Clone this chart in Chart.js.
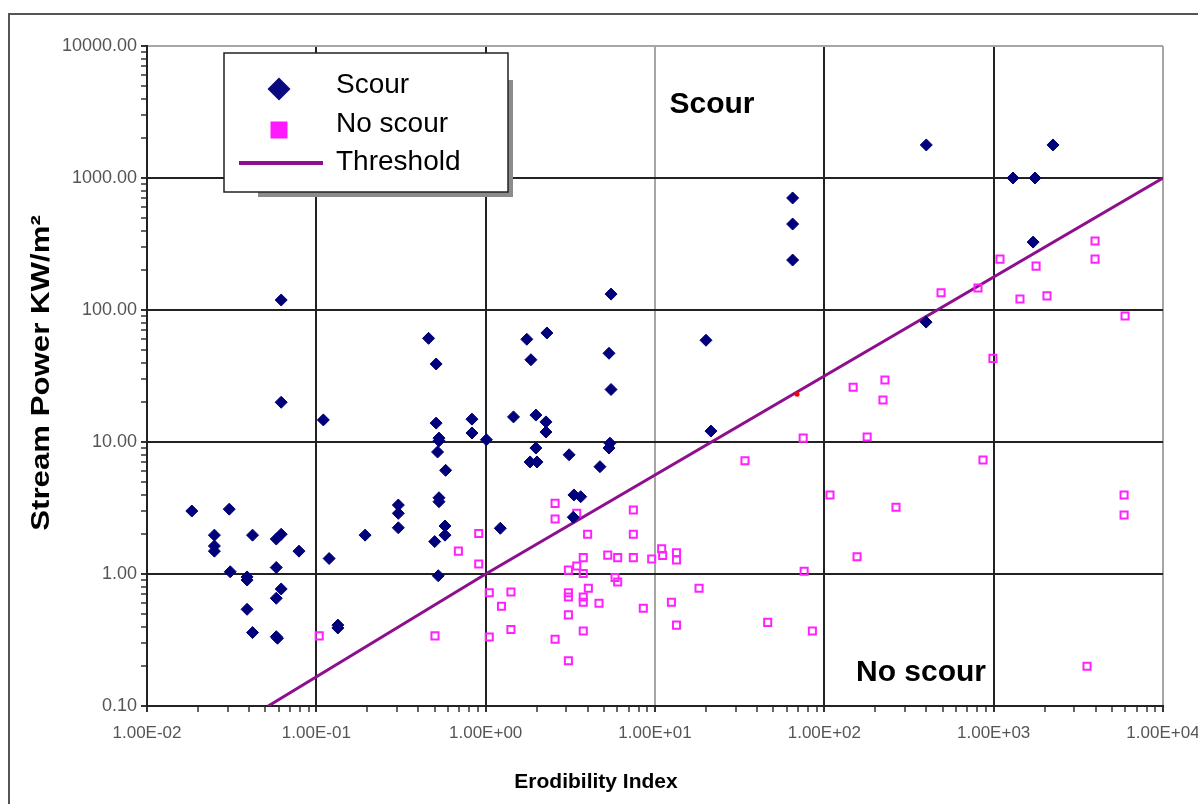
<!DOCTYPE html>
<html>
<head>
<meta charset="utf-8">
<script src="https://cdn.jsdelivr.net/npm/chart.js@4.4.1/dist/chart.umd.min.js"></script>
<style>
  body { margin: 0; background: #fff; }
  canvas { display: block; }
</style>
</head>
<body>
<canvas id="scourChart" width="1198" height="804"></canvas>
<script>
const FONT = '"Liberation Sans", Arial, sans-serif';

// decades used for the tick labels
const xDecades = [0.01, 0.1, 1, 10, 100, 1000, 10000];
const yDecades = [0.1, 1, 10, 100, 1000, 10000];

// Scour (navy diamonds)
const scourErodibility = [0.062, 0.062, 0.11, 0.46, 0.51, 0.51, 0.53, 0.53, 0.52, 0.58, 0.83, 0.83, 1.01, 1.46, 1.98, 2.27, 2.27, 1.98, 1.83, 2.01,
    3.11, 4.73, 5.42, 5.35, 5.5, 1.75, 2.30, 1.85, 5.35, 5.5, 20, 21.4, 65, 65, 65, 400, 2240, 1300, 1755, 1710,
    399, 0.0184, 0.0306, 0.025, 0.025, 0.025, 0.042, 0.058, 0.062, 0.079, 0.119, 0.031, 0.039, 0.039, 0.058, 0.062, 0.058, 0.039, 0.042, 0.058,
    0.059, 0.134, 0.134, 0.194, 0.50, 0.525, 0.305, 0.305, 0.305, 0.575, 0.575, 1.22, 3.32, 3.64, 3.29, 0.53, 0.53];
const scourPower = [119, 20, 14.7, 61, 39, 13.9, 10.7, 10.2, 8.4, 6.1, 14.9, 11.7, 10.4, 15.5, 16, 14.2, 11.9, 9.0, 7.06, 7.06,
    8.0, 6.5, 9.8, 9.0, 132, 60, 67, 42, 47, 25, 59, 12.1, 706, 448, 239, 1780, 1780, 1000, 1000, 327,
    81, 3.0, 3.1, 1.97, 1.63, 1.49, 1.97, 1.84, 2.0, 1.49, 1.31, 1.04, 0.95, 0.90, 1.12, 0.77, 0.655, 0.54, 0.36, 0.335,
    0.326, 0.41, 0.39, 1.97, 1.76, 0.97, 3.33, 2.88, 2.24, 2.31, 1.97, 2.22, 3.97, 3.85, 2.69, 3.78, 3.53];

// No scour (magenta open squares)
const noScourErodibility = [0.104, 0.502, 0.69, 0.91, 0.91, 1.05, 1.05, 2.57, 2.57, 3.45, 7.45, 7.45, 4.0, 3.77, 5.26, 6.02, 7.45, 9.56, 10.95, 11.1,
    13.4, 13.4, 3.45, 3.08, 3.77, 5.81, 6.02, 4.04, 3.08, 3.08, 3.77, 3.77, 4.67, 8.53, 12.5, 18.2, 3.08, 3.77, 2.57, 3.08,
    13.4, 1.41, 1.24, 1.41, 46.3, 85, 34, 75, 76, 3970, 3970, 1090, 1780, 808, 489, 1430, 2065, 5970, 990, 148,
    228, 222, 179, 865, 108, 265, 5890, 5890, 156, 3560];
const noScourPower = [0.34, 0.34, 1.49, 2.03, 1.19, 0.72, 0.333, 3.43, 2.61, 2.88, 3.05, 2.0, 2.0, 1.33, 1.39, 1.33, 1.33, 1.30, 1.55, 1.38,
    1.45, 1.28, 1.15, 1.07, 1.01, 0.94, 0.87, 0.78, 0.72, 0.67, 0.67, 0.61, 0.60, 0.55, 0.61, 0.78, 0.49, 0.37, 0.32, 0.22,
    0.41, 0.73, 0.57, 0.38, 0.43, 0.37, 7.2, 10.7, 1.05, 333, 243, 243, 215, 147, 135, 121, 128, 90, 43, 26,
    29.5, 20.8, 10.9, 7.3, 3.97, 3.2, 3.97, 2.8, 1.35, 0.20];

// single red point sitting on the threshold
const redErodibility = [69];
const redPower = [23];

// Threshold line
const thresholdErodibility = [0.052, 1, 10000];
const thresholdPower = [0.1, 1, 1000];

function toPoints(xs, ys) {
    return xs.map((x, i) => ({ x: x, y: ys[i] }));
}

function isDecade(v) {
    const l = Math.log10(v);
    return Math.abs(l - Math.round(l)) < 1e-9;
}

// 1..9 times every decade, so the minor tick marks show
function logTicks(decades) {
    const out = [];
    for (let i = 0; i < decades.length - 1; i++) {
        for (let m = 1; m < 10; m++) out.push(+(decades[i] * m).toPrecision(6));
    }
    out.push(decades[decades.length - 1]);
    return out.map(v => ({ value: v, major: isDecade(v) }));
}

function sciLabel(v) {
    const e = Math.round(Math.log10(v));
    return '1.00E' + (e < 0 ? '-' : '+') + String(Math.abs(e)).padStart(2, '0');
}

function gridStyle(lightValues) {
    return {
        color: ctx => {
            const v = ctx.tick.value;
            if (!isDecade(v)) return 'rgba(0,0,0,0)';
            return lightValues.some(l => Math.abs(l - v) < 1e-9) ? '#a6a6a6' : '#222';
        },
        lineWidth: ctx => isDecade(ctx.tick.value) ? 2 : 0,
        tickColor: '#333',
        tickWidth: ctx => isDecade(ctx.tick.value) ? 2 : 1.5,
        tickLength: 6,
        drawTicks: true,
        drawOnChartArea: true
    };
}

const overlay = {
    id: 'overlay',
    beforeDraw(chart) {
        const ctx = chart.ctx;
        ctx.save();
        ctx.fillStyle = '#fff';
        ctx.fillRect(0, 0, chart.width, chart.height);
        // outer frame
        ctx.strokeStyle = '#555';
        ctx.lineWidth = 2;
        ctx.beginPath();
        ctx.moveTo(9, chart.height);
        ctx.lineTo(9, 14);
        ctx.lineTo(chart.width, 14);
        ctx.stroke();
        ctx.restore();
    },
    afterDraw(chart) {
        const ctx = chart.ctx;
        ctx.save();
        ctx.fillStyle = '#000';
        ctx.textAlign = 'center';
        ctx.textBaseline = 'middle';

        // y axis title
        ctx.save();
        ctx.translate(42, 373);
        ctx.rotate(-Math.PI / 2);
        ctx.scale(1.2, 1);
        ctx.font = 'bold 26px ' + FONT;
        ctx.fillText('Stream Power KW/m\u00B2', 0, 0);
        ctx.restore();

        // x axis title
        ctx.save();
        ctx.translate(596, 782);
        ctx.scale(1.05, 1);
        ctx.font = 'bold 20px ' + FONT;
        ctx.fillText('Erodibility Index', 0, 0);
        ctx.restore();

        // region labels
        ctx.textBaseline = 'alphabetic';
        ctx.font = 'bold 30px ' + FONT;
        ctx.fillText('Scour', 712, 113);
        ctx.fillText('No scour', 921, 681);

        // legend box with its shadow
        ctx.fillStyle = '#8c8c8c';
        ctx.fillRect(508, 80, 5, 117);
        ctx.fillRect(258, 192, 255, 5);
        ctx.fillStyle = '#fff';
        ctx.fillRect(224, 53, 284, 139);
        ctx.strokeStyle = '#222';
        ctx.lineWidth = 1.5;
        ctx.strokeRect(224, 53, 284, 139);

        ctx.fillStyle = '#0a0a80';
        ctx.beginPath();
        ctx.moveTo(279, 77.5);
        ctx.lineTo(290.5, 89);
        ctx.lineTo(279, 100.5);
        ctx.lineTo(267.5, 89);
        ctx.closePath();
        ctx.fill();

        ctx.fillStyle = '#ff19ff';
        ctx.fillRect(270.5, 121.5, 17, 17);

        ctx.strokeStyle = '#8e0f8e';
        ctx.lineWidth = 4;
        ctx.beginPath();
        ctx.moveTo(239, 163);
        ctx.lineTo(323, 163);
        ctx.stroke();

        ctx.fillStyle = '#000';
        ctx.textAlign = 'left';
        ctx.font = '28px ' + FONT;
        ctx.fillText('Scour', 336, 93);
        ctx.fillText('No scour', 336, 132);
        ctx.fillText('Threshold', 336, 170);
        ctx.restore();
    }
};

new Chart(document.getElementById('scourChart'), {
    type: 'scatter',
    data: {
        datasets: [
            {
                label: 'point',
                data: toPoints(redErodibility, redPower),
                pointStyle: 'circle',
                pointRadius: 2.5,
                backgroundColor: '#ff0000',
                borderColor: '#ff0000',
                borderWidth: 0
            },
            {
                label: 'Scour',
                data: toPoints(scourErodibility, scourPower),
                pointStyle: 'rectRot',
                pointRadius: 6,
                backgroundColor: '#00007a',
                borderColor: '#00007a',
                borderWidth: 1
            },
            {
                label: 'No scour',
                data: toPoints(noScourErodibility, noScourPower),
                pointStyle: 'rect',
                pointRadius: 5,
                backgroundColor: 'rgba(255,255,255,0)',
                borderColor: '#ff22ff',
                borderWidth: 2
            },
            {
                label: 'Threshold',
                data: toPoints(thresholdErodibility, thresholdPower),
                showLine: true,
                pointRadius: 0,
                borderColor: '#8e0f8e',
                borderWidth: 3,
                fill: false
            }
        ]
    },
    options: {
        responsive: false,
        animation: false,
        devicePixelRatio: 1,
        events: [],
        layout: { padding: { left: 0, right: 35, top: 46, bottom: 0 } },
        plugins: {
            legend: { display: false },
            tooltip: { enabled: false }
        },
        scales: {
            x: {
                type: 'logarithmic',
                min: xDecades[0],
                max: xDecades[xDecades.length - 1],
                afterBuildTicks: scale => { scale.ticks = logTicks(xDecades); },
                afterFit: scale => {
                    scale.height = 98;
                    scale.paddingLeft = 0;
                    scale.paddingRight = 0;
                },
                grid: gridStyle([10, 10000]),
                border: { display: true, color: '#222', width: 2 },
                ticks: {
                    autoSkip: false,
                    maxRotation: 0,
                    minRotation: 0,
                    padding: 11,
                    color: '#555',
                    font: { family: FONT, size: 17 },
                    callback: v => isDecade(v) ? sciLabel(v) : ''
                }
            },
            y: {
                type: 'logarithmic',
                min: yDecades[0],
                max: yDecades[yDecades.length - 1],
                afterBuildTicks: scale => { scale.ticks = logTicks(yDecades); },
                afterFit: scale => {
                    scale.width = 147;
                    scale.paddingTop = 0;
                    scale.paddingBottom = 0;
                },
                grid: gridStyle([10000]),
                border: { display: true, color: '#222', width: 2 },
                ticks: {
                    autoSkip: false,
                    padding: 4,
                    color: '#555',
                    font: { family: FONT, size: 18 },
                    callback: v => isDecade(v) ? Number(v).toFixed(2) : ''
                }
            }
        }
    },
    plugins: [overlay]
});
</script>
</body>
</html>
